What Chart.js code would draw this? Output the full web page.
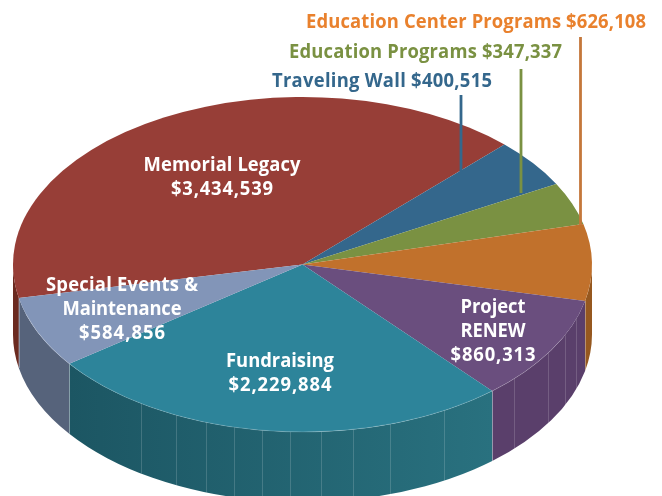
<!DOCTYPE html>
<html>
<head>
<meta charset="utf-8">
<style>html,body{margin:0;padding:0;background:#fff}canvas{display:block}</style>
<script src="https://cdn.jsdelivr.net/npm/chart.js@4"></script>
</head>
<body>
<canvas id="c" width="662" height="496"></canvas>
<script>
const categories = ["Memorial Legacy","Traveling Wall","Education Programs","Education Center Programs","Project RENEW","Fundraising","Special Events & Maintenance"];
const values = [3434539,400515,347337,626108,860313,2229884,584856];
const topColors = ["#973e37","#34678c","#7a9142","#c1712c","#6a4e7e","#2d849a","#8295b8"];
const wallStart = ["#6b2a20","#2a5270","#5f7133","#96581f","#5a3f6b","#29717f","#56637b"];
const wallEnd   = ["#6b2a20","#2a5270","#5f7133","#96581f","#5a3f6b","#1c5663","#56637b"];
const seamDegrees = [109,115,122,133,150.8,162.5,170,176.4,182.4,188,193.6,199.4,206,214];

const CX=302.5, CY=264.5, RX=289.5, RY=167.5, DEPTH=70;
const FONT='bold 20px "Open Sans", sans-serif';
const GLYPH_SQUEEZE=0.92;
const money=v=>"$"+v.toLocaleString("en-US");

const insideLabels=[
  {lines:["Memorial Legacy",money(values[0])],x:222,y:[171,195],w:[157,102]},
  {lines:["Special Events &","Maintenance",money(values[6])],x:122,y:[291,315,339],w:[152,119,86]},
  {lines:["Fundraising",money(values[5])],x:280,y:[367,391],w:[108,103]},
  {lines:["Project","RENEW",money(values[4])],x:493,y:[313,337,361],w:[65,65,85]}
];
const outerLabels=[
  {t:categories[3]+" "+money(values[3]),x:306,y:28,w:340,c:"#e9812d"},
  {t:categories[2]+" "+money(values[2]),x:289,y:58,w:273,c:"#7a9142"},
  {t:categories[1]+" "+money(values[1]),x:272,y:87,w:220,c:"#34678c"}
];
const leaders=[
  {x:461,y0:95,y1:172,c:"#34678c"},
  {x:521,y0:69,y1:193,c:"#7a9142"},
  {x:580.5,y0:37,y1:225,c:"#c4773a"}
];

function rimX(a){return CX+RX*Math.cos(a);}
function rimY(a){return CY+RY*Math.sin(a);}

const pie3d={
  id:"pie3d",
  beforeDatasetsDraw(chart){
    const ctx=chart.ctx, arcs=chart.getDatasetMeta(0).data;
    arcs.forEach((arc,i)=>{
      let s=arc.startAngle, e=arc.endAngle;
      const pieces=[[s,e],[s+2*Math.PI,e+2*Math.PI],[s-2*Math.PI,e-2*Math.PI]];
      pieces.forEach(([a,b])=>{
        const from=Math.max(a,0), to=Math.min(b,Math.PI);
        if(to<=from) return;
        const g=ctx.createLinearGradient(rimX(from),0,rimX(to)+0.01,0);
        g.addColorStop(0,wallStart[i]); g.addColorStop(1,wallEnd[i]);
        ctx.beginPath();
        ctx.ellipse(CX,CY,RX,RY,0,from,to,false);
        ctx.ellipse(CX,CY+DEPTH,RX,RY,0,to,from,true);
        ctx.closePath();
        ctx.fillStyle=g; ctx.fill();
      });
    });
    ctx.save();
    ctx.strokeStyle="rgba(255,255,255,0.16)"; ctx.lineWidth=1;
    seamDegrees.forEach(d=>{
      const a=(d-90)*Math.PI/180, x=Math.round(rimX(a))+0.5, y=rimY(a);
      ctx.beginPath(); ctx.moveTo(x,y); ctx.lineTo(x,y+DEPTH); ctx.stroke();
    });
    ctx.strokeStyle="rgba(255,255,255,0.3)";
    arcs.forEach(arc=>{
      let a=arc.endAngle; a=((a%(2*Math.PI))+2*Math.PI)%(2*Math.PI);
      if(a>0&&a<Math.PI){
        const x=Math.round(rimX(a))+0.5,y=rimY(a);
        ctx.beginPath(); ctx.moveTo(x,y); ctx.lineTo(x,y+DEPTH); ctx.stroke();
      }
    });
    ctx.restore();
    const a0=arcs[0];
    ctx.save();
    ctx.translate(CX,CY);
    ctx.scale(RX/a0.outerRadius,RY/a0.outerRadius);
    ctx.translate(-a0.x,-a0.y);
  },
  afterDatasetsDraw(chart){
    const ctx=chart.ctx;
    ctx.restore();
    ctx.save();
    ctx.strokeStyle="rgba(255,255,255,0.22)"; ctx.lineWidth=0.8;
    ctx.beginPath(); ctx.ellipse(CX,CY,RX,RY,0,0.45,Math.PI-0.3); ctx.stroke();
    ctx.lineWidth=2.8;
    leaders.forEach(l=>{
      ctx.strokeStyle=l.c;
      ctx.beginPath(); ctx.moveTo(l.x,l.y0); ctx.lineTo(l.x,l.y1); ctx.stroke();
    });
    ctx.font=FONT; ctx.textBaseline="alphabetic";
    ctx.textAlign="left";
    outerLabels.forEach(l=>{
      ctx.fillStyle=l.c;
      fitText(ctx,l.t,l.x,l.y,l.w);
    });
    ctx.fillStyle="#fff";
    insideLabels.forEach(b=>{
      b.lines.forEach((t,i)=>{
        fitText(ctx,t,b.x-b.w[i]/2,b.y[i],b.w[i]);
      });
    });
    ctx.restore();
  }
};
function fitText(ctx,t,x,y,w){
  ctx.letterSpacing="0px";
  const n=t.length-1, m=ctx.measureText(t).width;
  ctx.save();
  ctx.translate(x,y);
  ctx.scale(GLYPH_SQUEEZE,1);
  ctx.letterSpacing=((w/GLYPH_SQUEEZE-m)/Math.max(n,1)).toFixed(3)+"px";
  ctx.fillText(t,0,0);
  ctx.restore();
  ctx.letterSpacing="0px";
}

new Chart(document.getElementById("c"),{
  type:"pie",
  data:{labels:categories,datasets:[{data:values,backgroundColor:topColors,borderWidth:0,hoverOffset:0,clip:false}]},
  options:{
    responsive:false,animation:false,
    rotation:-101.5,
    layout:{padding:0},
    plugins:{legend:{display:false},tooltip:{enabled:false},title:{display:false}}
  },
  plugins:[pie3d]
});
</script>
</body>
</html>
